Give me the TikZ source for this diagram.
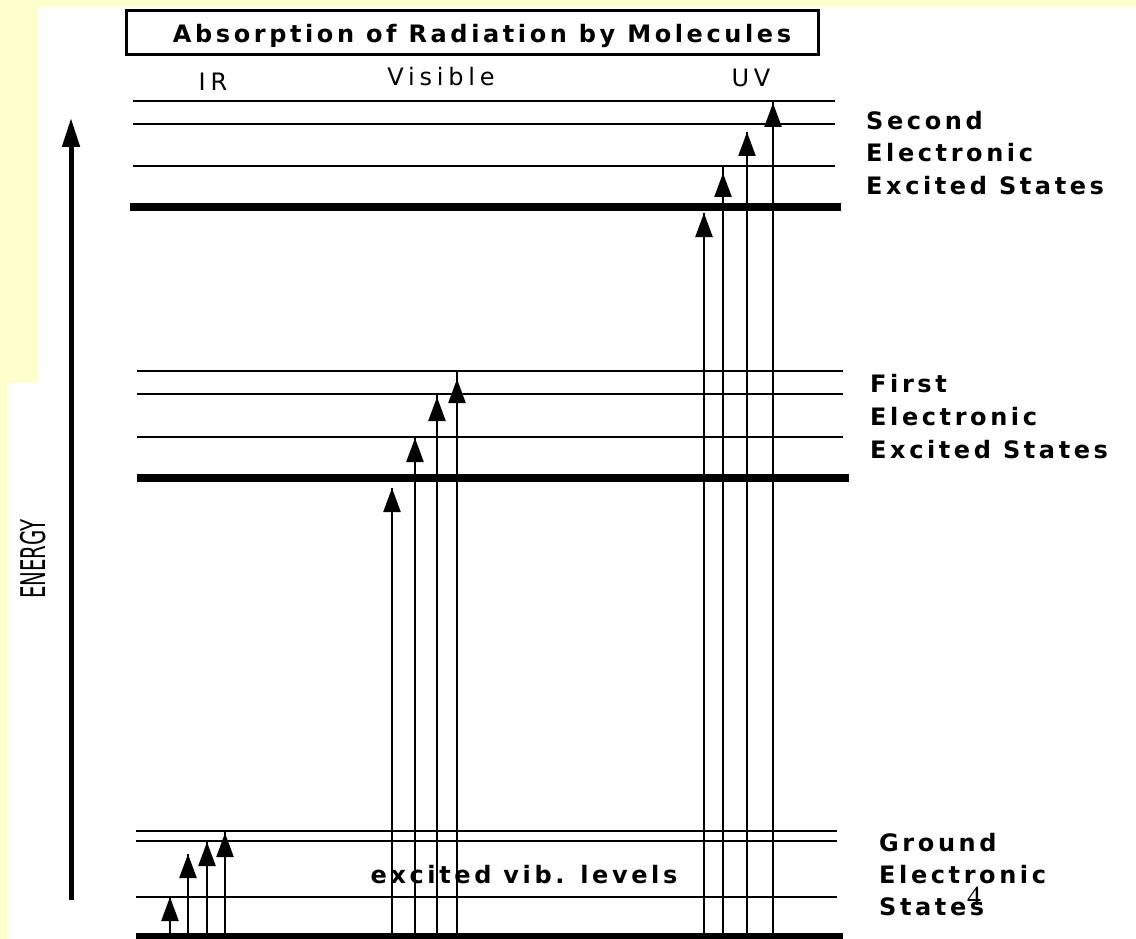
\documentclass[tikz,border=0pt]{standalone}
\usepackage{fontspec}
\usetikzlibrary{arrows.meta}
\newfontfamily\pixbold{DejaVu Sans}[LetterSpace=15]
\newfontfamily\pixthin{DejaVu Sans}[LetterSpace=20]
\newfontfamily\energyfont{DejaVu Sans}
\newfontfamily\slidefont{Liberation Serif}
\definecolor{slideyellow}{RGB}{255,255,204}

\tikzset{
  thinlevel/.style={line width=2pt},
  thicklevel/.style={line width=8pt},
  shaft/.style={line width=2.4pt},
  photon/.style={line width=2.4pt, -{Triangle[length=24pt,width=17pt]}},
  energyarrow/.style={line width=5pt, -{Triangle[length=29pt,width=17pt]}},
  boldlabel/.style={font=\pixbold\bfseries\fontsize{24}{28}\selectfont, inner sep=0pt},
  thinlabel/.style={font=\pixthin\fontsize{24}{28}\selectfont, inner sep=0pt},
}

\begin{document}
\begin{tikzpicture}[x=1pt, y=-1pt]
  \useasboundingbox (0,0) rectangle (1136,939);

  % slide background with the white drawing area
  \fill[slideyellow] (0,0) rectangle (1136,939);
  \fill[white] (37,7) -- (1136,7) -- (1136,939) -- (7,939) -- (7,383) -- (37,383) -- cycle;

  % title
  \node[draw, line width=3.3pt, minimum width=692pt, minimum height=44pt, inner sep=0pt]
    (titlebox) at (472.5,32.5) {};
  \node[boldlabel, anchor=base] (title) at (482,43) {Absorption of Radiation by Molecules};

  % region labels
  \node[thinlabel, anchor=base] (ir) at (213,91) {IR};
  \node[thinlabel, anchor=base] (vis) at (441,86) {Visible};
  \node[thinlabel, anchor=base] (uv) at (751,87) {UV};

  % energy axis
  \coordinate (e0) at (71,900);
  \coordinate (e1) at (71,118);
  \draw[energyarrow] (e0) -- (e1);
  \node[rotate=90, inner sep=0pt] (energy) at (33,559)
    {\energyfont\fontsize{34}{38}\selectfont\scalebox{0.58}[1]{ENERGY}};

  % second electronic excited state and its vibrational levels
  \draw[thinlevel] (133,101) -- (835,101);
  \draw[thinlevel] (133,124) -- (835,124);
  \draw[thinlevel] (133,166) -- (835,166);
  \draw[thicklevel] (130,207) -- (841,207);

  % first electronic excited state and its vibrational levels
  \draw[thinlevel] (137,371) -- (843,371);
  \draw[thinlevel] (137,394) -- (843,394);
  \draw[thinlevel] (137,437) -- (843,437);
  \draw[thicklevel] (137,478) -- (849,478);

  % ground electronic state and its vibrational levels
  \draw[thinlevel] (136,831) -- (837,831);
  \draw[thinlevel] (136,841) -- (837,841);
  \draw[thinlevel] (136,897) -- (837,897);
  \draw[line width=6pt] (136,936) -- (843,936);

  % transitions: x / arrow tip / top of shaft
  \foreach \x/\t/\s [count=\i] in {
      170/897/897, 188/854/854, 207/842/841, 225/833/831,
      392/488/488, 415/438/437, 437/397/394, 457/379/371,
      704/213/213, 723/173/166, 747/132/132, 773/103/101}{
    \coordinate (b\i) at (\x,937);
    \coordinate (s\i) at (\x,\s);
    \coordinate (t\i) at (\x,\t);
    \draw[shaft] (b\i) -- (s\i);
    \draw[photon] (b\i) -- (t\i);
  }

  \node[boldlabel, anchor=base] (vib) at (524,883) {excited vib. levels};

  % state labels
  \node[boldlabel, anchor=base west] (sec1) at (866,130) {Second};
  \node[boldlabel, anchor=base west] (sec2) at (866,162) {Electronic};
  \node[boldlabel, anchor=base west] (sec3) at (866,195) {Excited States};

  \node[boldlabel, anchor=base west] (fir1) at (870,392) {First};
  \node[boldlabel, anchor=base west] (fir2) at (870,425) {Electronic};
  \node[boldlabel, anchor=base west] (fir3) at (870,458) {Excited States};

  \node[boldlabel, anchor=base west] (gnd1) at (879,851) {Ground};
  \node[boldlabel, anchor=base west] (gnd2) at (879,883) {Electronic};
  \node[boldlabel, anchor=base west] (gnd3) at (879,915) {States};

  % slide number
  \node[font=\slidefont\fontsize{28}{30}\selectfont, inner sep=0pt] (pagenum) at (974,896) {4};
\end{tikzpicture}
\end{document}
